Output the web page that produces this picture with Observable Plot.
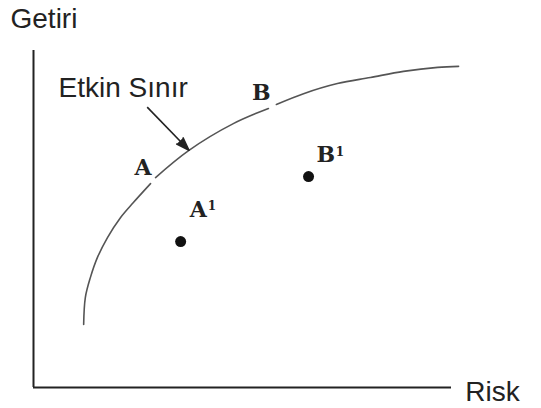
<!DOCTYPE html>
<html>
<head>
<meta charset="utf-8">
<script src="https://cdn.jsdelivr.net/npm/d3@7"></script>
<script src="https://cdn.jsdelivr.net/npm/@observablehq/plot@0.6"></script>
<style>
  html, body { margin: 0; padding: 0; background: #ffffff; }
  #chart svg { display: block; background: #ffffff; }
</style>
</head>
<body>
<div id="chart"></div>
<script>
// Efficient frontier curve (three pieces, with gaps at A and B)
const curveSegment = [0,0,0,0,0,0,0,0, 1,1,1,1, 2,2,2,2,2,2,2];
const curveRisk    = [12.0,12.4,13.6,15.3,17.7,20.8,23.9,28.0, 29.2,37.1,47.8,56.2, 58.1,64.6,72.7,80.6,88.5,96.7,101.7];
const curveReturn  = [18.7,26.7,32.6,38.6,44.5,50.4,54.9,60.5, 62.3,70.3,78.3,82.8, 84.0,87.2,90.2,92.0,93.8,95.0,95.3];

// Inefficient portfolios
const pointLabels = ["A¹", "B¹"];
const pointRisk   = [35.2, 65.8];
const pointReturn = [43.3, 62.6];

// Letter labels (main letters and their superscript "1")
const letterText   = ["A", "B", "A", "B"];
const letterRisk   = [26.2, 54.5, 39.4, 69.9];
const letterReturn = [65.1, 87.5, 52.8, 69.1];
const supText   = ["1", "1"];
const supRisk   = [42.7, 73.3];
const supReturn = [53.7, 69.9];

// Axis titles
const axisText   = ["Getiri", "Risk"];
const axisRisk   = [-5.5, 103.3];
const axisReturn = [109.3, -1.2];

// Annotation "Etkin Sınır" with arrow
const noteText = ["Etkin Sınır"];
const noteRisk = [6.0];
const noteReturn = [88.9];
const arrowFrom = [27.2, 83.2];
const arrowTo   = [37.2, 70.4];

const curve = curveRisk.map((x, i) => ({x, y: curveReturn[i], s: curveSegment[i]}));
const points = pointLabels.map((k, i) => ({k, x: pointRisk[i], y: pointReturn[i]}));
const letters = letterText.map((t, i) => ({t, x: letterRisk[i], y: letterReturn[i]}));
const sups = supText.map((t, i) => ({t, x: supRisk[i], y: supReturn[i]}));
const axes = axisText.map((t, i) => ({t, x: axisRisk[i], y: axisReturn[i]}));
const notes = noteText.map((t, i) => ({t, x: noteRisk[i], y: noteReturn[i]}));
const arrows = [{x1: arrowFrom[0], y1: arrowFrom[1], x2: arrowTo[0], y2: arrowTo[1]}];

const sans = "'Liberation Sans', Arial, sans-serif";
const serif = "'DejaVu Serif', serif";

const chart = Plot.plot({
  width: 541,
  height: 408,
  marginLeft: 33,
  marginRight: 90,
  marginTop: 50,
  marginBottom: 21,
  x: {domain: [0, 100], axis: null},
  y: {domain: [0, 100], axis: null},
  style: {background: "#ffffff"},
  marks: [
    Plot.ruleX([0], {y1: 0, y2: 100, stroke: "#222", strokeWidth: 2}),
    Plot.ruleY([0], {x1: 0, x2: 100, stroke: "#222", strokeWidth: 2}),
    Plot.line(curve, {x: "x", y: "y", z: "s", curve: "catmull-rom", stroke: "#555", strokeWidth: 1.6}),
    Plot.dot(points, {x: "x", y: "y", r: 5.5, fill: "#111", stroke: null}),
    Plot.text(letters, {x: "x", y: "y", text: "t", fontFamily: serif, fontWeight: "bold", fontSize: 22, fill: "#222"}),
    Plot.text(sups, {x: "x", y: "y", text: "t", fontFamily: serif, fontWeight: "bold", fontSize: 12, fill: "#222"}),
    Plot.text(axes, {x: "x", y: "y", text: "t", textAnchor: "start", fontFamily: sans, fontSize: 28, fill: "#222"}),
    Plot.text(notes, {x: "x", y: "y", text: "t", textAnchor: "start", fontFamily: sans, fontSize: 28, fill: "#222"}),
    Plot.link(arrows, {x1: "x1", y1: "y1", x2: "x2", y2: "y2", stroke: "#222", strokeWidth: 1.6}),
    Plot.vector(arrows, {x: "x2", y: "y2", length: 13, rotate: 135.7, anchor: "end", shape: "spike", r: 4.5, fill: "#222", stroke: "#222"})
  ]
});
document.getElementById("chart").appendChild(chart);
</script>
</body>
</html>
